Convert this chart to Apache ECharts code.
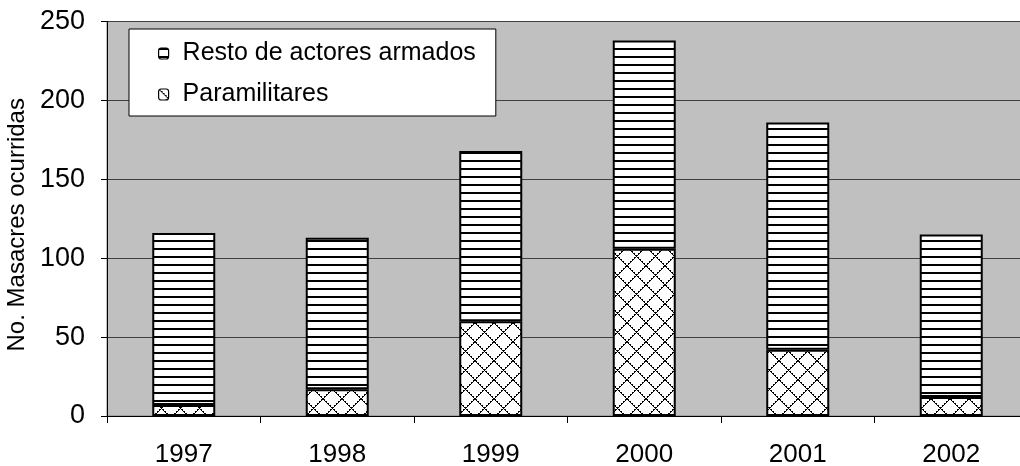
<!DOCTYPE html>
<html>
<head>
<meta charset="utf-8">
<script src="https://cdn.jsdelivr.net/npm/echarts@6/dist/echarts.min.js"></script>
<style>
html,body{margin:0;padding:0;background:#fff;}
#chart{width:1020px;height:466px;}
</style>
</head>
<body>
<div id="chart"></div>
<script>
const categories = ['1997', '1998', '1999', '2000', '2001', '2002'];
const paramilitares = [7, 17, 60, 106, 42, 12];
const resto = [109, 96, 108, 132, 144, 103];
const seriesNames = ['Paramilitares', 'Resto de actores armados'];
const legendOrder = ['Resto de actores armados', 'Paramilitares'];
const yAxisTitle = 'No. Masacres ocurridas';

function hLinePattern() {
  const c = document.createElement('canvas');
  c.width = 8; c.height = 8;
  const g = c.getContext('2d');
  g.fillStyle = '#fff'; g.fillRect(0, 0, 8, 8);
  g.fillStyle = '#000'; g.fillRect(0, 0, 8, 2);
  return c;
}
function crossPattern() {
  const n = 19;
  const c = document.createElement('canvas');
  c.width = n; c.height = n;
  const g = c.getContext('2d');
  g.fillStyle = '#fff'; g.fillRect(0, 0, n, n);
  g.fillStyle = '#000';
  for (let i = 0; i < n; i++) {
    g.fillRect(i, i, 1, 1);
    g.fillRect(n - 1 - i, i, 1, 1);
    if (i % 2 === 0) {
      g.fillRect(i + 1, i, 1, 1);
      g.fillRect(n - 2 - i, i, 1, 1);
    }
  }
  return c;
}

const font = "'Liberation Sans', Arial, sans-serif";
const chart = echarts.init(document.getElementById('chart'), null, { renderer: 'canvas' });
chart.setOption({
  animation: false,
  backgroundColor: '#fff',
  textStyle: { fontFamily: font, color: '#000' },
  grid: {
    left: 107, top: 21.5, bottom: 50, right: -8,
    outerBoundsMode: 'none',
    containLabel: false,
    show: true, backgroundColor: '#c0c0c0', borderColor: '#808080', borderWidth: 1
  },
  legend: {
    data: legendOrder,
    orient: 'vertical',
    left: 129, top: 29,
    padding: [12, 20, 9, 29],
    itemGap: 16,
    itemWidth: 10, itemHeight: 11,
    backgroundColor: '#fff',
    borderColor: '#000', borderWidth: 1,
    itemStyle: { borderWidth: 1.2, borderColor: '#000' },
    textStyle: { fontFamily: font, fontSize: 25, color: '#000', lineHeight: 24, padding: [0, 0, 0, 9] }
  },
  xAxis: {
    type: 'category',
    data: categories,
    axisLine: { lineStyle: { color: '#000', width: 1 } },
    axisTick: { show: true, length: 7, alignWithLabel: false, interval: 0, lineStyle: { color: '#000' } },
    axisLabel: { fontFamily: font, fontSize: 26, color: '#000', margin: 26, interval: 0 },
    splitLine: { show: false }
  },
  yAxis: {
    type: 'value',
    min: 0, max: 250, interval: 50,
    name: yAxisTitle,
    nameLocation: 'middle',
    nameGap: 76,
    nameTextStyle: { fontFamily: font, fontSize: 24, color: '#000', padding: [0, 12, 0, 0] },
    axisLine: { show: true, lineStyle: { color: '#000', width: 1 } },
    axisTick: { show: true, length: 6, lineStyle: { color: '#000' } },
    axisLabel: { fontFamily: font, fontSize: 27, color: '#000', margin: 22 },
    splitLine: { show: true, lineStyle: { color: '#404040', width: 1 } }
  },
  series: [
    {
      name: seriesNames[0], type: 'bar', stack: 'total', barWidth: 63,
      data: paramilitares,
      itemStyle: { color: { image: crossPattern(), repeat: 'repeat' }, borderColor: '#000', borderWidth: 2 }
    },
    {
      name: seriesNames[1], type: 'bar', stack: 'total', barWidth: 63,
      data: resto,
      itemStyle: { color: { image: hLinePattern(), repeat: 'repeat' }, borderColor: '#000', borderWidth: 2 }
    }
  ]
});
</script>
</body>
</html>
